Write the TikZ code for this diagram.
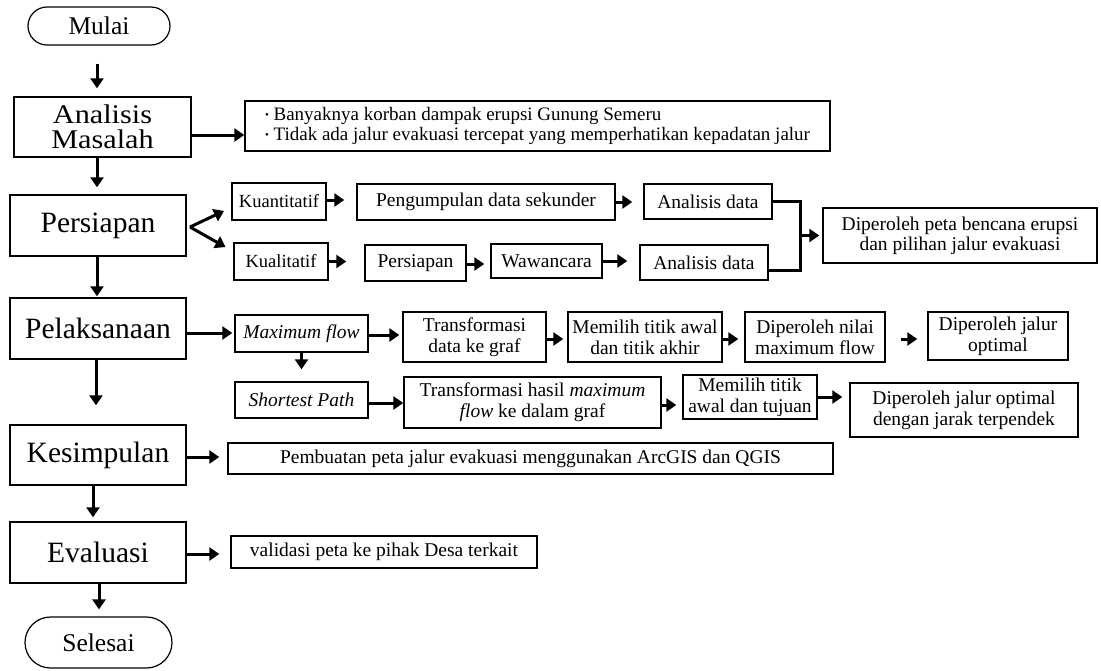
\documentclass[tikz,border=0pt]{standalone}
\usepackage{fontspec}
\setmainfont{Liberation Serif}
\newfontfamily\widefont[FakeStretch=1.12]{Liberation Serif}
\usetikzlibrary{arrows.meta,shapes.misc}

\tikzset{
  box/.style={draw, line width=1.4pt, inner sep=0pt, align=center},
  big/.style={font=\fontsize{29.5}{30}\selectfont},
  small/.style={font=\fontsize{19.5}{21}\selectfont},
  term/.style={draw, line width=1.2pt, rounded rectangle, inner sep=0pt,
               font=\fontsize{25.5}{25}\selectfont},
  arr/.style={line width=3pt, -{Triangle[length=10pt,width=13pt]}},
  link/.style={line width=3pt},
}

\begin{document}
\begin{tikzpicture}[x=1pt,y=-1pt]
\useasboundingbox (0,0) rectangle (1101,670);

% main column
\node[term, minimum width=142pt, minimum height=38pt] (mulai) at (99,26) {Mulai};
\node[box, minimum width=177pt, minimum height=60pt,
      font={\widefont\fontsize{27}{25.5}\selectfont}] (analisis) at (102.5,127) {Analisis\\Masalah};
\node[box, big, minimum width=176pt, minimum height=61pt] (persiapan) at (98,225.5) {Persiapan};
\node[box, big, minimum width=176pt, minimum height=61pt] (pelaksanaan) at (98,328.5) {Pelaksanaan};
\node[box, big, minimum width=176pt, minimum height=60pt] (kesimpulan) at (98,455) {Kesimpulan};
\node[box, big, minimum width=176pt, minimum height=61pt] (evaluasi) at (98,552.5) {Evaluasi};
\node[term, minimum width=147pt, minimum height=51pt] (selesai) at (98.5,642.5) {Selesai};

% problem statement
\node[box, minimum width=585pt, minimum height=50pt, align=left,
      font=\fontsize{19}{19.5}\selectfont] (masalah) at (537.5,126)
  {{\fontsize{11}{11}\selectfont\raisebox{2pt}{•}}\ Banyaknya korban dampak erupsi Gunung Semeru\\
   {\fontsize{11}{11}\selectfont\raisebox{2pt}{•}}\ Tidak ada jalur evakuasi tercepat yang memperhatikan kepadatan jalur};

% preparation branches
\node[box, font=\fontsize{18.5}{20}\selectfont, minimum width=94pt, minimum height=37pt] (kuanti) at (279,201.5) {Kuantitatif};
\node[box, font=\fontsize{18.5}{20}\selectfont, minimum width=94pt, minimum height=37pt] (kuali) at (281,261.5) {Kualitatif};
\node[box, small, minimum width=258pt, minimum height=36pt] (kumpul) at (486,202) {Pengumpulan data sekunder};
\node[box, small, minimum width=128pt, minimum height=35pt] (anaA) at (708,201.5) {Analisis data};
\node[box, small, minimum width=101pt, minimum height=36pt] (siap) at (415.5,263) {Persiapan};
\node[box, small, minimum width=111pt, minimum height=34pt] (wawan) at (546.5,261) {Wawancara};
\node[box, small, minimum width=128pt, minimum height=35pt] (anaB) at (704,262.5) {Analisis data};
\node[box, font=\fontsize{19.5}{20}\selectfont, minimum width=274pt, minimum height=55pt] (peta) at (960,235.5)
  {Diperoleh peta bencana erupsi\\dan pilihan jalur evakuasi};

% implementation rows
\node[box, small, minimum width=133pt, minimum height=37pt] (maxflow) at (301.5,333.5) {\itshape Maximum flow};
\node[box, small, minimum width=143pt, minimum height=50pt] (transA) at (474.5,337) {Transformasi\\data ke graf};
\node[box, small, minimum width=154pt, minimum height=50pt] (pilihA) at (645,337) {Memilih titik awal\\dan titik akhir};
\node[box, small, minimum width=140pt, minimum height=50pt] (nilai) at (815,337) {Diperoleh nilai\\maximum flow};
\node[box, small, minimum width=140pt, minimum height=48pt] (jalurA) at (998,336) {Diperoleh jalur\\optimal};

\node[box, small, minimum width=133pt, minimum height=36pt] (shortest) at (301.5,400) {\itshape Shortest Path};
\node[box, small, minimum width=257pt, minimum height=51pt] (transB) at (532.5,402.5)
  {Transformasi hasil \textit{maximum}\\\textit{flow} ke dalam graf};
\node[box, small, minimum width=134pt, minimum height=44pt] (pilihB) at (750,397) {Memilih titik\\awal dan tujuan};
\node[box, small, minimum width=228pt, minimum height=54pt] (jalurB) at (964,410) {Diperoleh jalur optimal\\dengan jarak terpendek};

% conclusion and evaluation
\node[box, small, minimum width=605pt, minimum height=31pt] (peta2) at (530.5,458.5)
  {Pembuatan peta jalur evakuasi menggunakan ArcGIS dan QGIS};
\node[box, small, minimum width=306pt, minimum height=32pt] (validasi) at (384,552) {validasi peta ke pihak Desa terkait};

% spine arrows
\draw[arr, shorten <=18pt, shorten >=8pt] ([xshift=-2pt]mulai.south) -- ([xshift=-2pt]mulai.south |- analisis.north);
\draw[arr, shorten >=7pt] ([xshift=-5.5pt]analisis.south) -- ([xshift=-5.5pt]analisis.south |- persiapan.north);
\draw[arr, shorten >=1pt] ([xshift=-1pt]persiapan.south) -- ([xshift=-1pt]persiapan.south |- pelaksanaan.north);
\draw[arr, shorten >=19pt] ([xshift=-2pt]pelaksanaan.south) -- ([xshift=-2pt]pelaksanaan.south |- kesimpulan.north);
\draw[arr, shorten >=4pt] ([xshift=-5pt]kesimpulan.south) -- ([xshift=-5pt]kesimpulan.south |- evaluasi.north);
\draw[arr, shorten >=7pt] ([xshift=1pt]evaluasi.south) -- ([xshift=1pt]evaluasi.south |- selesai.north);

% side arrows
\draw[arr] ([yshift=-8pt]analisis.east) -- ([yshift=-8pt]analisis.east -| masalah.west);
\coordinate (br) at (190,227);
\draw[arr, shorten >=8pt] (br) -- ([yshift=-6pt]kuanti.west);
\draw[arr, shorten >=9pt] (br) -- ([yshift=10pt]kuali.west);
\draw[arr, shorten >=12pt] ([yshift=1.5pt]kuanti.east) -- ([yshift=1.5pt]kuanti.east -| kumpul.west);
\draw[arr, shorten >=18pt] (kuali.east) -- (kuali.east -| siap.west);
\draw[arr, shorten >=11pt] (kumpul.east) -- (kumpul.east -| anaA.west);
\draw[arr, shorten >=6pt] ([yshift=-1pt]siap.east) -- ([yshift=-1pt]siap.east -| wawan.west);
\draw[arr, shorten >=12pt] (wawan.east) -- (wawan.east -| anaB.west);
\coordinate (jx) at (800,235.5);
\draw[link] (anaA.east) -| (jx) |- ([yshift=-7.5pt]anaB.east);
\draw[arr, shorten >=3pt] (jx) -- (peta.west);

\draw[arr, shorten >=2pt] ([yshift=-4.5pt]pelaksanaan.east) -- ([yshift=-4.5pt]pelaksanaan.east -| maxflow.west);
\draw[arr, shorten >=3pt] ([yshift=-1.5pt]maxflow.east) -- ([yshift=-1.5pt]maxflow.east -| transA.west);
\draw[arr, shorten >=12pt] (maxflow.south) -- (maxflow.south |- shortest.north);
\draw[arr, shorten >=4pt] ([yshift=-2pt]transA.east) -- ([yshift=-2pt]transA.east -| pilihA.west);
\draw[arr, shorten >=6pt] ([yshift=-2pt]pilihA.east) -- ([yshift=-2pt]pilihA.east -| nilai.west);
\draw[arr, shorten <=15pt, shorten >=10pt] ([yshift=-2pt]nilai.east) -- ([yshift=-2pt]nilai.east -| jalurA.west);
\draw[arr] ([yshift=-3pt]shortest.east) -- ([yshift=-3pt]shortest.east -| transB.west);
\draw[arr, shorten >=6pt] ([yshift=-2.5pt]transB.east) -- ([yshift=-2.5pt]transB.east -| pilihB.west);
\draw[arr, shorten >=7pt] (pilihB.east) -- (pilihB.east -| jalurB.west);

\draw[arr, shorten >=8pt] ([yshift=-2pt]kesimpulan.east) -- ([yshift=-2pt]kesimpulan.east -| peta2.west);
\draw[arr, shorten <=-2pt, shorten >=11pt] ([yshift=-1.5pt]evaluasi.east) -- ([yshift=-1.5pt]evaluasi.east -| validasi.west);
\end{tikzpicture}
\end{document}
